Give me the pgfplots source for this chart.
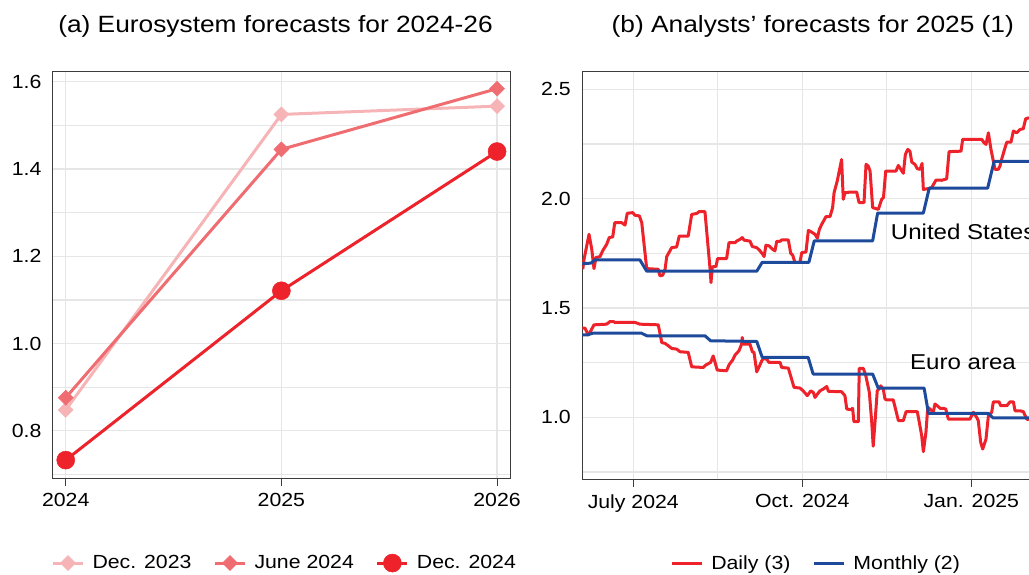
\documentclass[border=0pt]{standalone}
\usepackage{fontspec}
\setmainfont{Liberation Sans}[FakeStretch=1.12]
\usepackage{pgfplots}
\pgfplotsset{compat=1.18}
\definecolor{ecbred}{RGB}{237,34,42}
\definecolor{junered}{RGB}{239,108,113}
\definecolor{decpink}{RGB}{246,180,183}
\definecolor{ecbblue}{RGB}{30,74,155}
\definecolor{gridgray}{RGB}{230,230,230}
\definecolor{axisgray}{RGB}{60,60,60}
\pgfplotsset{
  common/.style={
    scale only axis,
    grid=both,
    major grid style={gridgray, line width=1.2pt},
    minor grid style={gridgray, line width=1.2pt},
    axis line style={axisgray, line width=1pt},
    tick align=outside,
    major tick length=8pt,
    minor tick length=0pt,
    xtick pos=bottom, ytick pos=left,
    xtick style={axisgray, line width=1pt},
    ytick style={draw=none},
    tick label style={font=\fontsize{19}{22}\selectfont},
    xticklabel style={yshift=-4pt},
    /pgf/number format/assume math mode=true,
    yticklabel style={/pgf/number format/.cd, fixed, fixed zerofill, precision=1},
    legend style={draw=none, fill=none, font=\fontsize{19}{22}\selectfont,
      /tikz/every even column/.append style={column sep=20pt},
      /tikz/every odd column/.append style={column sep=6pt}},
  }
}
\begin{document}
\begin{tikzpicture}
\path[use as bounding box] (0pt,0pt) rectangle (1029pt,-574pt);
\node[anchor=base, font=\fontsize{23.5}{27}\selectfont] at (275.5pt,-32.4pt) {(a) Eurosystem forecasts for 2024-26};
\node[anchor=base, font=\fontsize{23.5}{27}\selectfont] at (812.8pt,-32.4pt) {(b) Analysts’ forecasts for 2025 (1)};

\begin{axis}[common,
  at={(53pt,-478pt)}, anchor=south west, width=457pt, height=407pt,
  xmin=2023.941, xmax=2026.06, ymin=0.692, ymax=1.6245,
  xtick={2024,2025,2026}, xticklabels={2024,2025,2026},
  ytick={0.8,1.0,1.2,1.4,1.6}, minor ytick={0.7,0.9,1.1,1.3,1.5},
  legend columns=3,
  legend style={at={(0.507,-0.209)}, anchor=center},
  legend image code/.code={\draw[mark repeat=2,mark phase=2,#1] plot coordinates {(0pt,0pt) (15pt,0pt) (30pt,0pt)};},
]
\addplot[decpink, line width=3pt, mark=square*, mark size=5.3pt, mark options={solid, rotate=45, fill=decpink, draw=decpink, line width=0.5pt}]
  coordinates {(2024,0.848) (2025,1.525) (2026,1.544)};
\addlegendentry{Dec. 2023}
\addplot[junered, line width=3pt, mark=square*, mark size=5.3pt, mark options={solid, rotate=45, fill=junered, draw=junered, line width=0.5pt}]
  coordinates {(2024,0.876) (2025,1.445) (2026,1.584)};
\addlegendentry{June 2024}
\addplot[ecbred, line width=3pt, mark=*, mark size=9pt, mark options={solid, fill=ecbred, draw=ecbred, line width=0.5pt}]
  coordinates {(2024,0.733) (2025,1.121) (2026,1.440)};
\addlegendentry{Dec. 2024}
\end{axis}

\begin{axis}[common,
  at={(582.3pt,-479pt)}, anchor=south west, width=448.7pt, height=408pt,
  xmin=-27.76, xmax=216.5, ymin=0.718, ymax=2.5836,
  xtick={0,92,184}, xticklabels={July 2024,Oct. 2024,Jan. 2025}, minor xtick={46,138},
  ytick={1.0,1.5,2.0,2.5}, minor ytick={0.75,1.25,1.75,2.25},
  legend columns=2,
  legend style={at={(0.521,-0.206)}, anchor=center},
  legend image code/.code={\draw[#1] (0pt,0pt) -- (30pt,0pt);},
]
% United States, daily
\addplot[ecbred, line width=3pt, line join=round] coordinates {
(-27.5,1.677) (-26.8,1.723) (-24.1,1.837) (-22.6,1.768) (-21.4,1.680) (-20.3,1.731) (-18.1,1.735) (-16.7,1.761) (-14.5,1.791) (-13.1,1.822) (-11.2,1.825) (-10.1,1.890) (-6.3,1.890) (-4.5,1.879) (-3.3,1.933) (-0.3,1.936) (0.9,1.924) (3.3,1.921) (4.6,1.890) (7.3,1.680) (13.6,1.677) (14.5,1.647) (16,1.650) (17.3,1.677) (18.2,1.735) (20.9,1.776) (23.6,1.779) (25,1.829) (29.9,1.829) (31.8,1.928) (34.5,1.932) (35.9,1.941) (39,1.941) (41.8,1.677) (42.3,1.616) (43,1.688) (45,1.690) (45.9,1.726) (50.8,1.726) (52.1,1.799) (55.4,1.799) (56.3,1.806) (58.1,1.814) (59.3,1.822) (60.3,1.810) (63.5,1.806) (64.8,1.781) (67.2,1.776) (69,1.761) (70.4,1.746) (71.2,1.735) (72.2,1.787) (74,1.784) (75.3,1.772) (77.1,1.761) (78.1,1.805) (79.9,1.805) (80.8,1.811) (84.4,1.811) (85.7,1.750) (86.8,1.741) (88,1.708) (90.7,1.708) (91.7,1.753) (94,1.756) (95.3,1.855) (97.1,1.847) (98.9,1.837) (100.2,1.819) (101.3,1.860) (102.6,1.883) (104.9,1.918) (107.1,1.918) (108.5,1.959) (109.3,2.027) (111,2.080) (113.4,2.179) (114.3,1.997) (115.2,2.027) (118,2.030) (121.6,2.030) (122.9,1.982) (125.6,1.982) (126.7,2.157) (127.9,2.149) (128.9,2.126) (130.3,1.959) (133.4,1.951) (135.2,1.997) (136.2,2.005) (137.4,2.126) (143,2.126) (144.3,2.152) (145.6,2.134) (147,2.116) (148.1,2.202) (149.4,2.225) (150.6,2.217) (151.6,2.167) (153.3,2.157) (154.6,2.137) (156.1,2.134) (157.2,2.161) (157.9,2.042) (160.6,2.046) (162.4,2.050) (164.8,2.085) (167.9,2.084) (169.7,2.088) (170.6,2.091) (171.9,2.215) (178.4,2.217) (179.3,2.271) (189.7,2.271) (190.9,2.256) (192,2.248) (193.3,2.301) (194.7,2.225) (196.9,2.134) (198.7,2.134) (199.6,2.149) (200.5,2.179) (201.8,2.217) (203.3,2.258) (205.6,2.258) (206.9,2.309) (208.7,2.301) (210.5,2.316) (212.3,2.320) (213.6,2.365) (215.4,2.370)
};
\addlegendentry{Daily (3)}
% Euro area, daily
\addplot[ecbred, line width=3pt, line join=round, forget plot] coordinates {
(-28.1,1.408) (-26.3,1.408) (-24.5,1.377) (-23.6,1.388) (-21.4,1.423) (-14.5,1.426) (-12.7,1.438) (-10.9,1.438) (-10,1.434) (0.9,1.434) (3.6,1.426) (13.6,1.423) (15.5,1.342) (17.3,1.338) (19.1,1.327) (20.9,1.315) (23.6,1.312) (25.4,1.300) (29.9,1.297) (31.8,1.231) (38.1,1.228) (39.6,1.240) (42.1,1.251) (43.5,1.281) (45.7,1.216) (50.8,1.213) (52.1,1.240) (54.1,1.262) (55.4,1.285) (57.5,1.304) (59,1.335) (59.3,1.365) (59.9,1.335) (63.5,1.335) (64.8,1.300) (65.7,1.297) (67.2,1.208) (68.6,1.233) (69.9,1.258) (70.8,1.269) (72.6,1.266) (73.9,1.251) (79.9,1.251) (80.8,1.228) (84.4,1.225) (87.5,1.137) (90.7,1.134) (92.5,1.121) (94.7,1.099) (96.6,1.121) (98,1.114) (98.9,1.091) (100.2,1.106) (101.6,1.121) (103.4,1.129) (105.3,1.141) (106.2,1.119) (113.4,1.117) (115.2,1.099) (116.2,1.038) (118.3,1.035) (119.4,1.041) (120.1,0.980) (122.5,0.980) (123,1.224) (125.2,1.224) (126.5,1.193) (128.5,1.114) (129.8,0.977) (130.6,0.868) (131.9,1.015) (132.8,1.121) (133.9,1.132) (134.7,1.144) (136.1,1.129) (137,1.084) (137.9,1.080) (141.5,1.080) (143,1.030) (144.3,0.985) (147,0.985) (148.5,1.026) (154.6,1.026) (155.7,0.977) (157,0.916) (157.9,0.843) (159.3,0.931) (160.3,1.046) (161.5,1.038) (163.3,1.023) (164.2,1.061) (165.5,1.053) (167,1.041) (168.8,1.041) (170.1,1.038) (171.5,0.992) (183.3,0.992) (185.1,1.023) (186.9,1.000) (187.8,0.985) (189.1,0.886) (190.2,0.855) (192,0.901) (193.3,1.007) (195.1,1.023) (196,1.071) (199.1,1.071) (200,1.053) (203.3,1.053) (205.1,1.071) (206.9,1.071) (207.8,1.030) (210.5,1.030) (212.3,1.026) (214.2,0.992) (215.4,0.989)
};
% United States, monthly
\addplot[ecbblue, line width=3pt, line join=round] coordinates {
(-28,1.703) (-23,1.705) (-21,1.720) (3.6,1.720) (7.3,1.668) (67.2,1.668) (70.2,1.709) (95.6,1.709) (98.5,1.807) (130.3,1.807) (133,1.934) (157.9,1.934) (161.1,2.048) (192.9,2.048) (196.4,2.170) (217,2.170)
};
\addlegendentry{Monthly (2)}
% Euro area, monthly
\addplot[ecbblue, line width=3pt, line join=round, forget plot] coordinates {
(-28,1.377) (-25,1.377) (-22,1.385) (4.4,1.385) (7.3,1.373) (39,1.373) (42.1,1.350) (67.2,1.347) (70.2,1.274) (95.2,1.274) (97.9,1.198) (130.3,1.198) (133.3,1.134) (158.3,1.134) (160.7,1.018) (193.2,1.018) (195.9,0.997) (217,0.997)
};
\node[anchor=base west, font=\fontsize{21.5}{25}\selectfont] at (axis cs:138.3,1.811) {United States};
\node[anchor=base west, font=\fontsize{21.5}{25}\selectfont] at (axis cs:148.8,1.217) {Euro area};
\end{axis}
\end{tikzpicture}
\end{document}
